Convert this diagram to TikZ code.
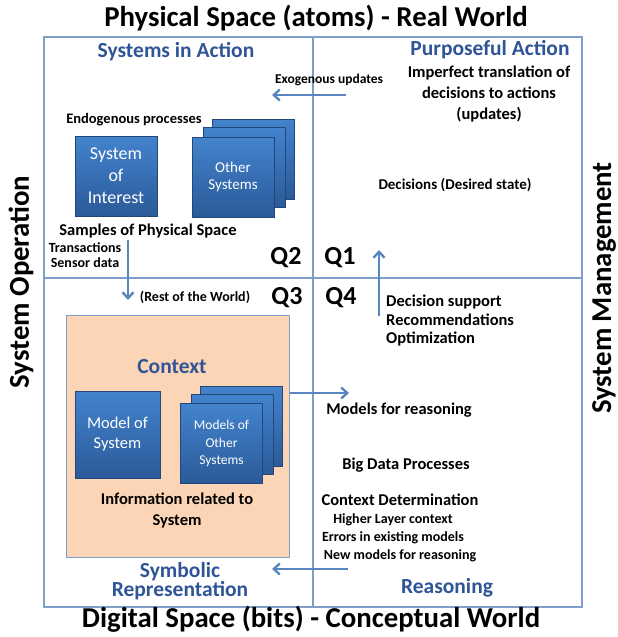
\documentclass[tikz,border=0pt]{standalone}
\usepackage{fontspec}
\setmainfont{Carlito}
\usepackage{xcolor}
\usepackage{tikz}
\usetikzlibrary{positioning,arrows.meta,calc}
\definecolor{frameblue}{HTML}{7F9FCB}
\definecolor{arrowblue}{HTML}{5A86C0}
\definecolor{headblue}{HTML}{2F5597}
\definecolor{boxtop}{HTML}{4383CD}
\definecolor{boxbot}{HTML}{2B5A99}
\definecolor{peach}{HTML}{FBD5B5}

\begin{document}
\begin{tikzpicture}[x=1pt,y=-1pt,>={Straight Barb[length=6pt,width=11pt]},
  every node/.style={font=\bfseries\fontsize{16.5}{21}\selectfont,align=center,inner sep=1pt},
  title/.style={font=\bfseries\fontsize{28.8}{31}\selectfont},
  head/.style={font=\bfseries\fontsize{21.5}{16.5}\selectfont,text=headblue},
  small/.style={font=\bfseries\fontsize{14}{15}\selectfont},
  qlab/.style={font=\bfseries\fontsize{26}{27}\selectfont},
  sysbox/.style={draw=boxbot!80!black,top color=boxtop,bottom color=boxbot,text=white,
    font=\fontsize{15}{17}\selectfont,minimum width=82pt,minimum height=80pt,inner sep=0pt},
  arr/.style={->,draw=arrowblue,line width=2.4pt},
  frame/.style={draw=frameblue,line width=1.3pt}]
  \useasboundingbox (0,0) rectangle (618,637);
  % quadrants
  \draw[frame] (44,37) rectangle (582,607);
  \draw[frame] (313,37) -- (313,607);
  \draw[frame] (44,278) -- (582,278);
  \node[title] (top) at (316,18) {Physical Space (atoms) - Real World};
  \node[title] (bottom) at (311,619) {Digital Space (bits) - Conceptual World};
  \node[title,rotate=90] (ops) at (21,282) {System Operation};
  \node[title,rotate=90] (mgmt) at (604,288) {System Management};
  \node[qlab] (q2) at (286,258) {Q2};
  \node[qlab] (q1) at (340,258) {Q1};
  \node[qlab] (q3) at (287,298) {Q3};
  \node[qlab] (q4) at (341,298) {Q4};
  % Q2: systems in action
  \node[head] (action) at (176,52) {Systems in Action};
  \node[font=\bfseries\fontsize{14.5}{16}\selectfont] (endo) at (134,120) {Endogenous processes};
  \node[sysbox,font=\fontsize{18}{22}\selectfont] (soi) at (116,176) {System\\of\\Interest};
  \node[sysbox] (os3) at (253,159) {};
  \node[sysbox] (os2) at (244,167) {};
  \node[sysbox] (os1) at (233,177) {Other\\Systems};
  \node (samples) at (148,231) {Samples of Physical Space};
  \node[small] (trans) at (85,255) {Transactions\\Sensor data};
  \node[small] (rest) at (195,297) {(Rest of the World)};
  \coordinate (samp-s) at (128,240);
  \coordinate (samp-e) at (128,300);
  \draw[arr] (samp-s) -- (samp-e);
  % Q1: purposeful action
  \node[head] (purpose) at (490,50) {Purposeful Action};
  \node (imperfect) at (489,94) {Imperfect translation of\\decisions to actions\\(updates)};
  \node[font=\bfseries\fontsize{13.5}{15}\selectfont] (exo) at (329,80) {Exogenous updates};
  \coordinate (exo-s) at (346,95);
  \coordinate (exo-e) at (272,95);
  \draw[arr] (exo-s) -- (exo-e);
  \node[font=\bfseries\fontsize{15}{17}\selectfont] (decisions) at (455,185) {Decisions (Desired state)};
  \coordinate (dec-s) at (379,316);
  \coordinate (dec-e) at (379,250);
  \draw[arr] (dec-s) -- (dec-e);
  % Q3: symbolic representation
  \node[draw=frameblue,line width=1pt,fill=peach,minimum width=223pt,minimum height=242pt] (context) at (177.5,436) {};
  \node[head] (ctx) at (172,367) {Context};
  \node[sysbox,minimum width=85pt,minimum height=87pt,font=\fontsize{16.5}{20}\selectfont] (mos) at (117.5,434.5) {Model of\\System};
  \node[sysbox] (mo3) at (241.5,426) {};
  \node[sysbox] (mo2) at (232,434) {};
  \node[sysbox,font=\fontsize{13.5}{17.5}\selectfont] (mo1) at (221.5,443.5) {Models of\\Other\\Systems};
  \node (info) at (177,510) {Information related to\\System};
  \node[head] (symbolic) at (180,581) {Symbolic\\Representation};
  \coordinate (mod-e) at (349,393);
  \draw[arr] (context.east |- mod-e) -- (mod-e);
  % Q4: reasoning
  \node[align=left,anchor=west,font=\bfseries\fontsize{16.5}{18.5}\selectfont] (support) at (385,321) {Decision support\\Recommendations\\Optimization};
  \node (mfr) at (399,410) {Models for reasoning};
  \node (bigdata) at (406,465) {Big Data Processes};
  \node (ctxdet) at (400,500) {Context Determination};
  \node[small] (higher) at (393,520) {Higher Layer context};
  \node[small] (errors) at (393,538) {Errors in existing models};
  \node[small] (newmod) at (400,556) {New models for reasoning};
  \node[head] (reason) at (447,588) {Reasoning};
  \coordinate (new-s) at (348,569);
  \coordinate (new-e) at (272,569);
  \draw[arr] (new-s) -- (new-e);
\end{tikzpicture}
\end{document}
